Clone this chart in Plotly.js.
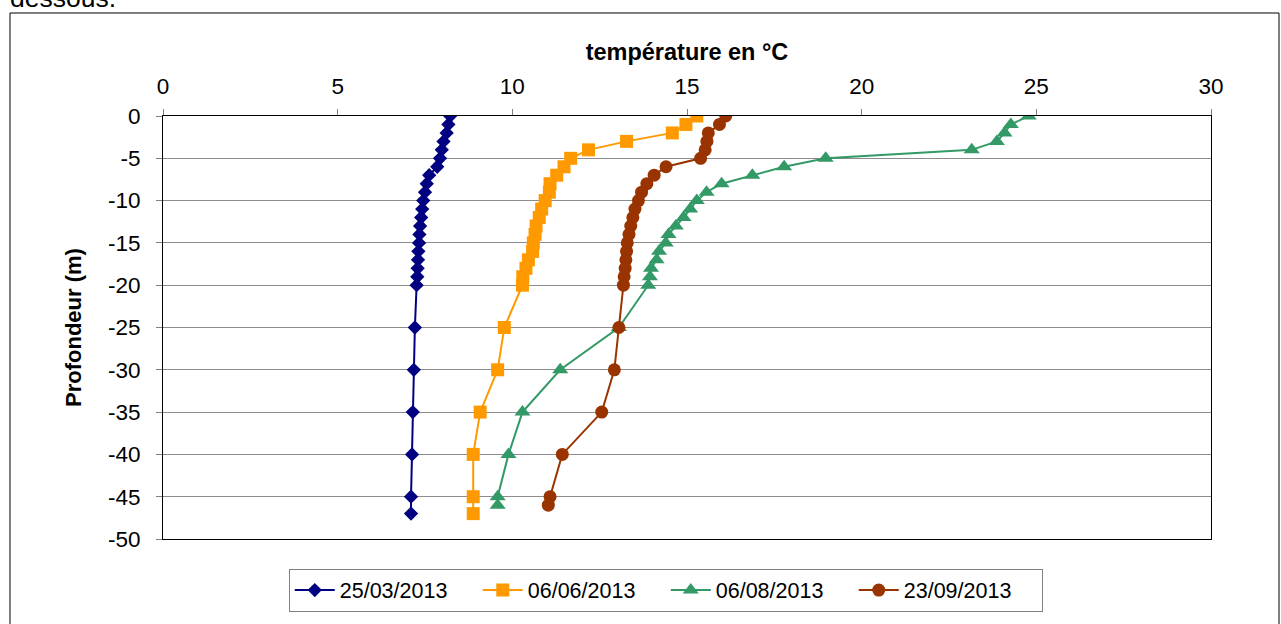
<!DOCTYPE html>
<html>
<head>
<meta charset="utf-8">
<script src="https://cdn.plot.ly/plotly-3.0.1.min.js"></script>
<style>html,body{margin:0;padding:0;background:#fff;}#chart{width:1281px;height:624px;}</style>
</head>
<body>
<div id="chart"></div>
<script>
const depthA = [0,-1,-2,-3,-4,-5,-6,-7,-8,-9,-10,-11,-12,-13,-14,-15,-16,-17,-18,-19,-20,-25,-30,-35,-40,-45,-47];
const depthB = [0,-1,-2,-3,-4,-5,-6,-7,-8,-9,-10,-11,-12,-13,-14,-15,-16,-17,-18,-19,-20,-25,-30,-35,-40,-45,-46];

const temp_2503 = [8.22,8.17,8.12,8.03,7.98,7.93,7.85,7.62,7.55,7.50,7.45,7.42,7.39,7.36,7.34,7.33,7.31,7.30,7.29,7.28,7.26,7.21,7.18,7.15,7.13,7.10,7.10];
const temp_0606 = [15.28,14.97,14.58,13.27,12.18,11.67,11.48,11.27,11.08,11.06,10.94,10.84,10.77,10.68,10.65,10.60,10.58,10.46,10.39,10.30,10.29,9.77,9.58,9.08,8.88,8.88,8.88];
const temp_0608 = [24.78,24.27,24.09,23.87,23.15,18.97,17.78,16.87,15.99,15.56,15.28,15.09,14.90,14.68,14.47,14.39,14.20,14.13,13.97,13.94,13.89,13.05,11.37,10.29,9.89,9.58,9.58];
const temp_2309 = [16.11,15.93,15.61,15.57,15.52,15.39,14.40,14.06,13.85,13.70,13.61,13.51,13.45,13.39,13.34,13.29,13.27,13.25,13.23,13.20,13.18,13.05,12.92,12.56,11.43,11.08,11.03];

const seriesNames = ['25/03/2013','06/06/2013','06/08/2013','23/09/2013'];
const xTicks = [0,5,10,15,20,25,30];
const yTicks = [0,-5,-10,-15,-20,-25,-30,-35,-40,-45,-50];

const font = 'Liberation Sans, Arial, sans-serif';

function tr(x, y, name, color, symbol, size) {
  return {
    x: x, y: y, name: name, type: 'scatter', mode: 'lines+markers',
    line: {color: color, width: 2},
    marker: {color: color, symbol: symbol, size: size}
  };
}

const data = [
  tr(temp_2503, depthA, seriesNames[0], '#000080', 'diamond', 11),
  tr(temp_0606, depthA, seriesNames[1], '#FF9900', 'square', 13),
  tr(temp_0608, depthB, seriesNames[2], '#339966', 'triangle-up', 14),
  tr(temp_2309, depthB, seriesNames[3], '#993300', 'circle', 13)
];

const layout = {
  width: 1281, height: 624,
  margin: {l: 163, r: 70, t: 116, b: 85, pad: 0},
  paper_bgcolor: '#ffffff', plot_bgcolor: '#ffffff',
  font: {family: font, size: 22.5, color: '#000'},
  showlegend: true,
  xaxis: {
    side: 'top', range: [0, 30], tickvals: xTicks, ticktext: xTicks.map(String),
    showgrid: false, zeroline: false,
    showline: true, linecolor: '#000', linewidth: 1, mirror: true,
    ticks: 'outside', ticklen: 6, tickcolor: '#808080',
    ticklabelstandoff: 6,
    tickfont: {family: font, size: 22.5},
    title: {text: '<b>température en °C</b>', font: {family: font, size: 23.5}, standoff: 6}
  },
  yaxis: {
    range: [-50, 0], tickvals: yTicks, ticktext: yTicks.map(String),
    showgrid: true, gridcolor: '#8c8c8c', gridwidth: 1, zeroline: false,
    showline: true, linecolor: '#000', linewidth: 1, mirror: true,
    ticks: 'outside', ticklen: 6, tickcolor: '#808080',
    ticklabelstandoff: 11,
    tickfont: {family: font, size: 22.5},
    title: {text: '<b>Profondeur (m)</b>', font: {family: font, size: 22}, standoff: 20}
  },
  legend: {
    orientation: 'h', x: 0.12, xanchor: 'left', y: -0.07, yanchor: 'top',
    bordercolor: '#808080', borderwidth: 1, bgcolor: '#fff',
    font: {family: font, size: 21.5}, itemwidth: 40, tracegroupgap: 0,
    entrywidth: 133, entrywidthmode: 'pixels'
  },
  shapes: [{
    type: 'rect', xref: 'paper', yref: 'paper',
    x0: -0.146, x1: 1.0649, y0: -0.215, y1: 1.2435,
    line: {color: '#000', width: 1}
  }],
  annotations: [{
    xref: 'paper', yref: 'paper', x: -0.148, y: 1.2388, xanchor: 'left', yanchor: 'bottom',
    text: 'dessous.', showarrow: false, font: {family: font, size: 26.5, color: '#000'}
  }]
};

Plotly.newPlot('chart', data, layout, {displayModeBar: false, staticPlot: true});
</script>
</body>
</html>
